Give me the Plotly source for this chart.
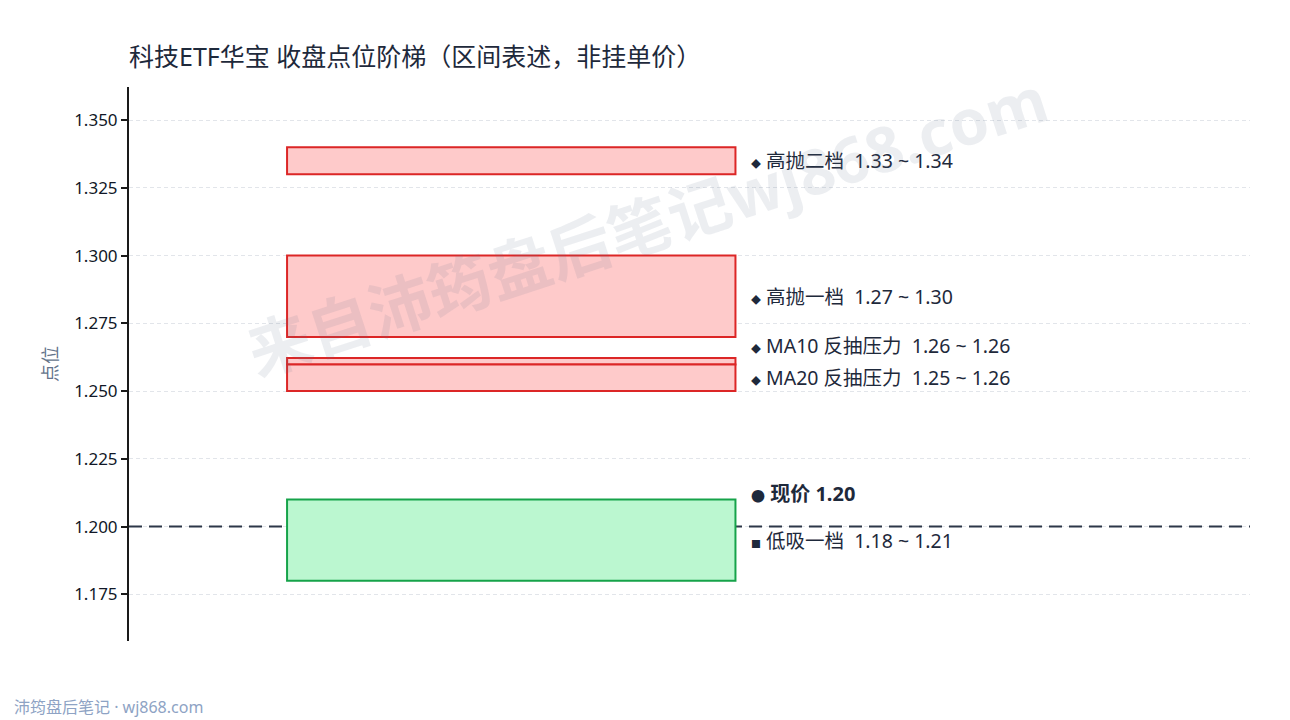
import plotly.graph_objects as go

# 区间数据
names = ["高抛二档", "高抛一档", "MA10 反抽压力", "MA20 反抽压力", "低吸一档"]
lows = [1.33, 1.27, 1.2598, 1.25, 1.18]
highs = [1.34, 1.30, 1.2622, 1.2598, 1.21]
kinds = ["sell", "sell", "sell", "sell", "buy"]
current_price = 1.20
tick_vals = [1.175, 1.200, 1.225, 1.250, 1.275, 1.300, 1.325, 1.350]

FONT = "Noto Sans, Noto Sans CJK SC, sans-serif"
TEXT = "#1e293b"
STYLE = {
    "sell": dict(fill="#fecaca", line="#dc2626", mark="◆"),
    "buy": dict(fill="#bbf7d0", line="#16a34a", mark="■"),
}

W, H = 1282, 712  # 页面 body 有 8px 边距
M_L, M_R, M_T, M_B = 121, 40, 79, 79

pad = 0.0222
y_lo, y_hi = min(lows) - pad, max(highs) + pad
plot_h = H - M_T - M_B
px_per_unit = plot_h / (y_hi - y_lo)
min_gap = 32 / px_per_unit

box_x0, box_x1, label_x = 0.141, 0.541, 0.553

fig = go.Figure()
# 透明 trace 让坐标轴生效
fig.add_trace(go.Scatter(x=[0, 1], y=[y_lo, y_hi], mode="markers",
                         marker=dict(opacity=0), hoverinfo="skip", showlegend=False))

# 现价虚线（先画，被区间框覆盖）
fig.add_shape(type="line", xref="paper", x0=0, x1=1, yref="y",
              y0=current_price, y1=current_price,
              line=dict(color="#2d3748", width=2, dash="13px,7px"))

for lo, hi, k in zip(lows, highs, kinds):
    st = STYLE[k]
    fig.add_shape(type="rect", xref="x", yref="y", x0=box_x0, x1=box_x1,
                  y0=lo, y1=hi, fillcolor=st["fill"],
                  line=dict(color=st["line"], width=2))

# 标签位置：区间中点，自下而上避让
order = sorted(range(len(names)), key=lambda i: (lows[i] + highs[i]) / 2)
label_y = {}
prev = None
for i in order:
    y = (lows[i] + highs[i]) / 2
    if prev is not None and y < prev + min_gap:
        y = prev + min_gap
    label_y[i] = y
    prev = y

nb = "\u00a0"
for i in range(len(names)):
    st = STYLE[kinds[i]]
    txt = (f"<span style='font-size:10px'>{st['mark']}</span>{nb}{names[i]}{nb}{nb}"
           f"{lows[i]:.2f}{nb}~{nb}{highs[i]:.2f}")
    fig.add_annotation(x=label_x, y=label_y[i], xref="x", yref="y", text=txt,
                       showarrow=False, xanchor="left", yanchor="middle",
                       font=dict(family=FONT, size=19.5, color=TEXT))

fig.add_annotation(x=label_x, y=current_price, xref="x", yref="y", yshift=33,
                   text=f"<span style='font-size:14px'>●</span>{nb}<b>现价 {current_price:.2f}</b>",
                   showarrow=False, xanchor="left", yanchor="middle",
                   font=dict(family=FONT, size=20, color=TEXT))

# 水印
fig.add_annotation(x=0.462, y=0.752, xref="paper", yref="paper",
                   xanchor="center", yanchor="middle",
                   text="<b>来自沛筠盘后笔记wj868.com</b>", showarrow=False,
                   textangle=-18, font=dict(family=FONT, size=63,
                                            color="rgba(100,116,139,0.12)"))
# 页脚
fig.add_annotation(x=-0.1044, y=-0.119, xref="paper", yref="paper",
                   text="沛筠盘后笔记 · wj868.com", showarrow=False,
                   xanchor="left", yanchor="middle",
                   font=dict(family=FONT, size=16, color="#8ea3c4"))

fig.update_layout(
    width=W, height=H,
    margin=dict(l=M_L, r=M_R, t=M_T, b=M_B),
    paper_bgcolor="white", plot_bgcolor="white",
    font=dict(family=FONT, color=TEXT),
    showlegend=False,
    title=dict(text="科技ETF华宝 收盘点位阶梯（区间表述，非挂单价）",
               x=M_L / W, xanchor="left", xref="container",
               y=1 - 49 / H, yanchor="middle", yref="container",
               font=dict(family=FONT, size=25, color=TEXT)),
    xaxis=dict(visible=False, range=[0, 1], fixedrange=True),
    yaxis=dict(range=[y_lo, y_hi], tickvals=tick_vals, tickformat=".3f",
               showgrid=True, gridcolor="#e2e5ea", griddash="4px,3px", gridwidth=1,
               zeroline=False, showline=True, linecolor="#1a1a1a", linewidth=2,
               ticks="outside", ticklen=6, tickcolor="#1a1a1a", tickwidth=2,
               tickfont=dict(family=FONT, size=17, color="#111827"),
               title=dict(text="点位", standoff=12,
                          font=dict(family=FONT, size=18, color="#64748b"))),
)

fig.write_html("out.html")
